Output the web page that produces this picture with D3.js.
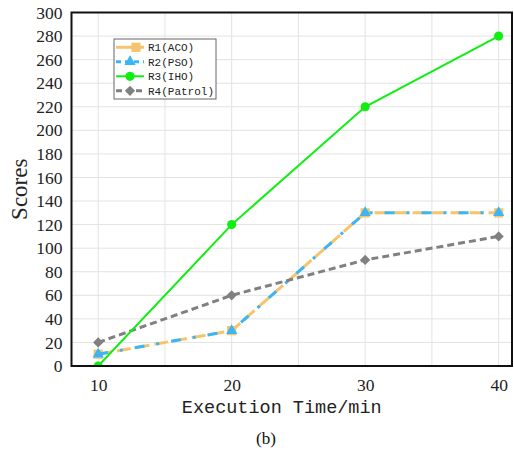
<!DOCTYPE html>
<html>
<head>
<meta charset="utf-8">
<script src="https://cdn.jsdelivr.net/npm/d3@7"></script>
<style>
  body { margin: 0; background: #fff; }
</style>
</head>
<body>
<div id="chart"></div>
<script>
// data
const times = [10, 20, 30, 40];
const acoScores = [10, 30, 130, 130];
const psoScores = [10, 30, 130, 130];
const ihoScores = [0, 120, 220, 280];
const patrolScores = [20, 60, 90, 110];
const seriesNames = ['R1(ACO)', 'R2(PSO)', 'R3(IHO)', 'R4(Patrol)'];
const xTicks = [10, 20, 30, 40];
const xGrid = [10, 15, 20, 25, 30, 35, 40];
const yTicks = d3.range(0, 301, 20);

const svgWidth = 514;
const svgHeight = 452;
const margin = { top: 12.5, right: 2, bottom: 86, left: 71.5 };
const width = svgWidth - margin.left - margin.right;
const height = svgHeight - margin.top - margin.bottom;

const serif = 'Liberation Serif, Times New Roman, serif';
const mono = 'Liberation Mono, Courier New, monospace';

const styles = [
    { color: '#f5c46c', width: 3, dash: '14,5', marker: d3.symbolSquare, size: 85, rot: 0 },
    { color: '#3bb5f3', width: 3, dash: '10,12,3,12', marker: d3.symbolTriangle, size: 55, rot: 0 },
    { color: '#11ee11', width: 2, dash: null, marker: d3.symbolCircle, size: 66, rot: 0 },
    { color: '#808080', width: 3, dash: '7,4', marker: d3.symbolSquare, size: 52, rot: 45 }
];
const seriesValues = [acoScores, psoScores, ihoScores, patrolScores];
const drawOrder = [0, 1, 3, 2];

const svg = d3.select('#chart')
    .append('svg')
    .attr('width', svgWidth)
    .attr('height', svgHeight)
    .style('background', '#fff');

const g = svg.append('g')
    .attr('transform', 'translate(' + margin.left + ',' + margin.top + ')');

const x = d3.scaleLinear().domain([8, 41]).range([0, width]);
const y = d3.scaleLinear().domain([0, 300]).range([height, 0]);

// grid
g.selectAll('.vgrid').data(xGrid).enter().append('line')
    .attr('x1', d => x(d)).attr('x2', d => x(d))
    .attr('y1', 0).attr('y2', height)
    .attr('stroke', '#e3e3e3').attr('stroke-width', 1);
g.selectAll('.hgrid').data(yTicks).enter().append('line')
    .attr('x1', 0).attr('x2', width)
    .attr('y1', d => y(d)).attr('y2', d => y(d))
    .attr('stroke', '#e3e3e3').attr('stroke-width', 1);

// clip to the plot frame
svg.append('clipPath').attr('id', 'plotclip')
    .append('rect').attr('width', width).attr('height', height);
const plot = g.append('g').attr('clip-path', 'url(#plotclip)');

const line = d3.line().x((d, i) => x(times[i])).y(d => y(d));

drawOrder.forEach(k => {
    const vals = seriesValues[k];
    const s = styles[k];
    plot.append('path')
        .datum(vals)
        .attr('d', line)
        .attr('fill', 'none')
        .attr('stroke', s.color)
        .attr('stroke-width', s.width)
        .attr('stroke-dasharray', s.dash);
    plot.selectAll('.m' + k).data(vals).enter().append('path')
        .attr('d', d3.symbol().type(s.marker).size(s.size))
        .attr('transform', (d, i) => 'translate(' + x(times[i]) + ',' + y(d) + ') rotate(' + s.rot + ')')
        .attr('fill', s.color);
});

// frame
g.append('rect')
    .attr('width', width).attr('height', height)
    .attr('fill', 'none').attr('stroke', '#111').attr('stroke-width', 2);

// axes (labels only, no tick marks)
const xAxis = g.append('g')
    .attr('transform', 'translate(0,' + height + ')')
    .call(d3.axisBottom(x).tickValues(xTicks).tickSize(0).tickPadding(13));
const yAxis = g.append('g')
    .call(d3.axisLeft(y).tickValues(yTicks).tickSize(0).tickPadding(9));
[xAxis, yAxis].forEach(a => {
    a.attr('font-family', serif).attr('font-size', 17.5);
    a.select('.domain').remove();
    a.selectAll('text').attr('fill', '#222');
});

// axis titles
g.append('text')
    .attr('x', width / 2 - 10)
    .attr('y', height + 47)
    .attr('text-anchor', 'middle')
    .attr('font-family', mono)
    .attr('font-size', 18.5)
    .attr('fill', '#222')
    .text('Execution Time/min');

g.append('text')
    .attr('transform', 'rotate(-90)')
    .attr('x', -height / 2)
    .attr('y', -margin.left + 27)
    .attr('text-anchor', 'middle')
    .attr('font-family', serif)
    .attr('font-size', 23)
    .attr('fill', '#222')
    .text('Scores');

svg.append('text')
    .attr('x', 266)
    .attr('y', 444)
    .attr('text-anchor', 'middle')
    .attr('font-family', serif)
    .attr('font-size', 17)
    .attr('fill', '#111')
    .text('(b)');

// legend
const legend = svg.append('g').attr('transform', 'translate(114,39)');
legend.append('rect')
    .attr('width', 102).attr('height', 60)
    .attr('fill', '#fff').attr('stroke', '#666').attr('stroke-width', 1);

seriesNames.forEach((name, k) => {
    const s = styles[k];
    const ly = 8.3 + k * 14.5;
    legend.append('line')
        .attr('x1', 2).attr('x2', 30)
        .attr('y1', ly).attr('y2', ly)
        .attr('stroke', s.color)
        .attr('stroke-width', s.width)
        .attr('stroke-dasharray', k === 1 ? '5,4' : (k === 3 ? '6,4' : null));
    legend.append('path')
        .attr('d', d3.symbol().type(s.marker).size(s.size))
        .attr('transform', 'translate(' + (k === 0 ? 22 : 16) + ',' + ly + ') rotate(' + s.rot + ')')
        .attr('fill', s.color);
    legend.append('text')
        .attr('x', 34)
        .attr('y', ly)
        .attr('dy', '0.36em')
        .attr('font-family', mono)
        .attr('font-size', 11)
        .attr('fill', '#222')
        .text(name);
});
</script>
</body>
</html>
